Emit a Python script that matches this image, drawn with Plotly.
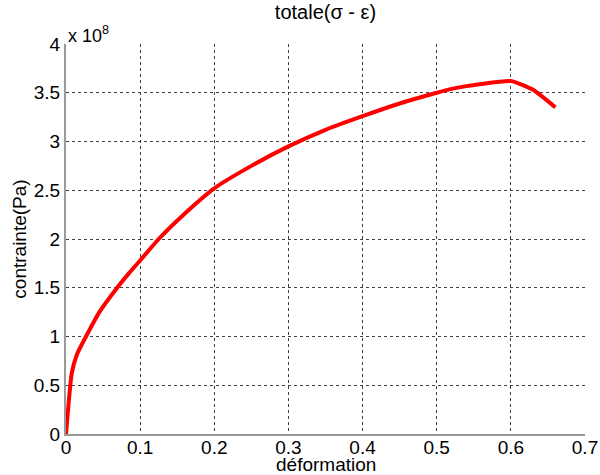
import plotly.graph_objects as go

# data (strain, stress in units of 1e8 Pa)
deformation = [0, 0.0077, 0.015, 0.027, 0.045, 0.069, 0.085, 0.1, 0.125, 0.16, 0.2,
               0.25, 0.3, 0.35, 0.4, 0.45, 0.5, 0.52, 0.56, 0.6, 0.63, 0.66]
contrainte = [0, 0.62, 0.82, 1.0, 1.25, 1.5, 1.65, 1.78, 2.0, 2.26, 2.52,
              2.75, 2.95, 3.12, 3.26, 3.39, 3.5, 3.54, 3.59, 3.62, 3.53, 3.35]
x_ticks = [0, 0.1, 0.2, 0.3, 0.4, 0.5, 0.6, 0.7]
x_tick_labels = ["0", "0.1", "0.2", "0.3", "0.4", "0.5", "0.6", "0.7"]
y_ticks = [0, 0.5, 1, 1.5, 2, 2.5, 3, 3.5, 4]
y_tick_labels = ["0", "0.5", "1", "1.5", "2", "2.5", "3", "3.5", "4"]

FONT = "Liberation Sans, Arial, sans-serif"

fig = go.Figure()
fig.add_trace(go.Scatter(x=deformation, y=contrainte, mode="lines",
                         line=dict(color="#ff0000", width=4, shape="spline", smoothing=0.5),
                         showlegend=False))

axis_common = dict(showgrid=True, gridcolor="#404040", griddash="dot", gridwidth=1,
                   showline=True, linecolor="#999999", linewidth=2, zeroline=False,
                   ticks="", automargin=False,
                   tickfont=dict(family=FONT, size=19, color="black"))

fig.update_xaxes(range=[0, 0.7], tickvals=x_ticks, ticktext=x_tick_labels,
                 ticklabelstandoff=-5,
                 **axis_common)
fig.update_yaxes(range=[0, 4], tickvals=y_ticks, ticktext=y_tick_labels,
                 title=dict(text="contrainte(Pa)", font=dict(family=FONT, size=19, color="black"),
                            standoff=2),
                 **axis_common)

# x-axis title placed as annotation for precise positioning
fig.add_annotation(text="déformation", xref="paper", yref="paper", x=0.5, y=0,
                   xanchor="center", yanchor="middle", showarrow=False, yshift=-30,
                   font=dict(family=FONT, size=19, color="black"))

fig.add_annotation(text="x 10<sup>8</sup>", xref="paper", yref="paper", x=0, y=1,
                   xanchor="left", yanchor="bottom", showarrow=False, yshift=-4,
                   font=dict(family=FONT, size=18, color="black"))

fig.update_layout(
    width=600, height=475,
    margin=dict(l=66, r=15, t=44, b=41),
    paper_bgcolor="white", plot_bgcolor="white",
    title=dict(text="totale(σ - ε)", x=0.5, xanchor="center", y=0.99, yanchor="top",
               xref="paper", font=dict(family=FONT, size=20, color="black")),
)

fig.write_html("out.html", config={"displayModeBar": False},
               post_script="document.body.style.margin='0px';")
